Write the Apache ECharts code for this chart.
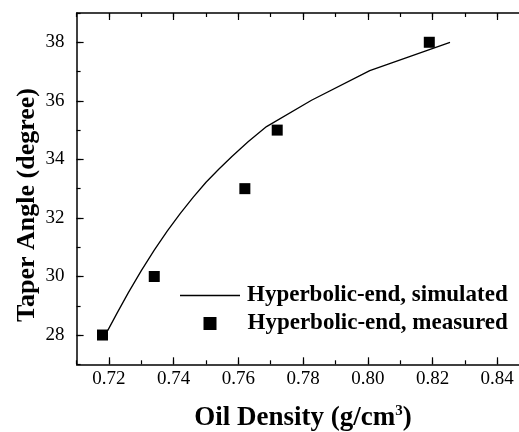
<!DOCTYPE html>
<html><head><meta charset="utf-8">
<script src="https://cdn.jsdelivr.net/npm/echarts@6/dist/echarts.min.js"></script>
<style>html,body{margin:0;padding:0;background:#fff}#c{width:519px;height:432px}</style>
</head><body><div id="c"></div>
<script>
// Data
const simDensity = [0.7196, 0.7225, 0.726, 0.730, 0.734, 0.738, 0.742, 0.746, 0.750, 0.754, 0.758, 0.763, 0.7687, 0.7826, 0.8006, 0.8254];
const simAngle   = [28.15, 28.75, 29.45, 30.2, 30.9, 31.55, 32.15, 32.7, 33.22, 33.67, 34.1, 34.6, 35.12, 36.02, 37.03, 38.0];
const measDensity = [0.718, 0.734, 0.762, 0.772, 0.819];
const measAngle   = [28, 30, 33, 35, 38];
const xTicks = [0.72, 0.74, 0.76, 0.78, 0.80, 0.82, 0.84];
const yTicks = [28, 30, 32, 34, 36, 38];
const simName = 'Hyperbolic-end, simulated';
const measName = 'Hyperbolic-end, measured';

const chart = echarts.init(document.getElementById('c'), null, {renderer:'canvas'});
const font = 'Liberation Serif';
const lineStyle = {color:'#000', width:1.5};
const X0 = 0.71, X1 = 0.85, Y0 = 27, Y1 = 39;

const majorX = (pos) => ({
  type:'value', position:pos, min:X0, max:X1,
  axisLine:{show:true, lineStyle:lineStyle},
  axisTick:{show:true, inside:true, length:7, customValues:xTicks, lineStyle:{color:'#000', width:1.2}},
  axisLabel:{show:pos==='bottom', customValues:xTicks, margin:5, fontFamily:font, fontSize:19, color:'#000',
             formatter:(v)=>v.toFixed(2)},
  splitLine:{show:false}
});
const minorX = (pos) => ({
  type:'value', position:pos, min:X0, max:X1, interval:0.01,
  axisLine:{show:false},
  axisTick:{show:true, inside:true, length:4, lineStyle:{color:'#000', width:1.2}},
  axisLabel:{show:false}, splitLine:{show:false}
});

chart.setOption({
  animation:false,
  backgroundColor:'#fff',
  grid:{left:76.6, top:13, right:-10.6, bottom:67.7, outerBoundsMode:'none', containLabel:false},
  xAxis:[majorX('bottom'), majorX('top'), minorX('bottom'), minorX('top')],
  yAxis:[
    {type:'value', position:'left', min:Y0, max:Y1,
     axisLine:{show:true, lineStyle:lineStyle},
     axisTick:{show:true, inside:true, length:7, customValues:yTicks, lineStyle:{color:'#000', width:1.2}},
     axisLabel:{customValues:yTicks, margin:12, fontFamily:font, fontSize:19, color:'#000'},
     splitLine:{show:false}},
    {type:'value', position:'left', min:Y0, max:Y1, interval:1,
     axisLine:{show:false},
     axisTick:{show:true, inside:true, length:4, lineStyle:{color:'#000', width:1.2}},
     axisLabel:{show:false}, splitLine:{show:false}}
  ],
  legend:[
    {data:[{name:simName, icon:'rect'}], left:175, top:279, itemWidth:60, itemHeight:1.5, orient:'vertical',
     itemStyle:{color:'#000'},
     textStyle:{fontFamily:font, fontSize:23, fontWeight:'bold', color:'#000', padding:[0,0,0,2]}},
    {data:[{name:measName, icon:'rect'}], left:198.5, top:307, itemWidth:13, itemHeight:13, orient:'vertical',
     itemStyle:{color:'#000', opacity:1},
     textStyle:{fontFamily:font, fontSize:23, fontWeight:'bold', color:'#000', padding:[0,0,0,26]}}
  ],
  graphic:[
    {type:'text', x:27, y:205, rotation:Math.PI/2, style:{text:'Taper Angle (degree)', fontFamily:font, fontSize:26,
      fontWeight:'bold', fill:'#000', align:'center', verticalAlign:'middle'}},
    {type:'text', x:303, y:418, style:{text:'{a|Oil Density (g/cm}{s|3}{a|)}', align:'center', verticalAlign:'middle',
      rich:{a:{fontFamily:font, fontSize:27, fontWeight:'bold', fill:'#000', color:'#000'},
            s:{fontFamily:font, fontSize:15, fontWeight:'bold', fill:'#000', color:'#000', verticalAlign:'top', padding:[0,0,14,0]}}}}
  ],
  series:[
    {name:simName, type:'line', xAxisIndex:0, yAxisIndex:0, symbol:'none', smooth:false,
     data:simDensity.map((x,i)=>[x, simAngle[i]]), lineStyle:{color:'#000', width:1.3}, itemStyle:{color:'#000'}},
    {name:measName, type:'scatter', xAxisIndex:0, yAxisIndex:0, symbol:'rect', symbolSize:11,
     data:measDensity.map((x,i)=>[x, measAngle[i]]), itemStyle:{color:'#000', opacity:1}}
  ]
});
</script></body></html>
